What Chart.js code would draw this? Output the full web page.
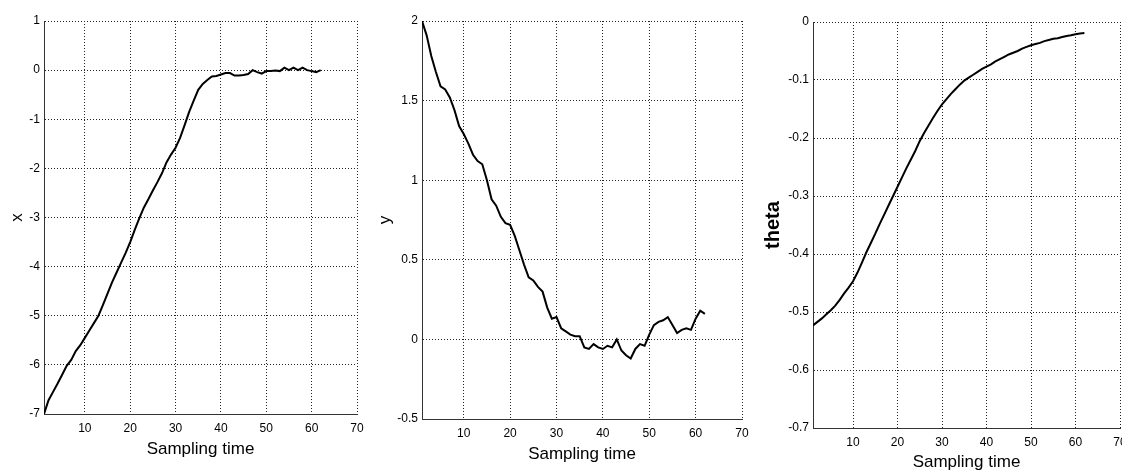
<!DOCTYPE html>
<html>
<head>
<meta charset="utf-8">
<script src="https://cdn.jsdelivr.net/npm/chart.js@4/dist/chart.umd.min.js"></script>
<style>
    html, body { margin: 0; padding: 0; background: #fff; }
    body { width: 1122px; height: 473px; position: relative; overflow: hidden; }
    canvas { position: absolute; top: 0; }
</style>
</head>
<body>
<canvas id="chart-x" width="375" height="473" style="left:0px"></canvas>
<canvas id="chart-y" width="380" height="473" style="left:375px"></canvas>
<canvas id="chart-theta" width="367" height="473" style="left:755px"></canvas>
<script>
// --- Data ---
const samplingTime = [1, 2, 3, 4, 5, 6, 7, 8, 9, 10, 11, 12, 13, 14, 15, 16, 17, 18, 19, 20,
    21, 22, 23, 24, 25, 26, 27, 28, 29, 30, 31, 32, 33, 34, 35, 36, 37, 38, 39, 40,
    41, 42, 43, 44, 45, 46, 47, 48, 49, 50, 51, 52, 53, 54, 55, 56, 57, 58, 59, 60, 61, 62];

const xValues = [-7.00, -6.72, -6.55, -6.38, -6.20, -6.02, -5.90, -5.72, -5.60, -5.45,
    -5.30, -5.15, -5.00, -4.78, -4.55, -4.32, -4.12, -3.92, -3.72, -3.50,
    -3.25, -3.02, -2.80, -2.63, -2.45, -2.28, -2.10, -1.88, -1.72, -1.58,
    -1.38, -1.12, -0.85, -0.62, -0.40, -0.28, -0.20, -0.13, -0.12, -0.09,
    -0.06, -0.06, -0.11, -0.11, -0.10, -0.08, 0.00, -0.04, -0.07, -0.02,
    -0.02, -0.01, -0.02, 0.05, 0.00, 0.05, 0.00, 0.05, 0.00, -0.02, -0.04, 0.00];

const yValues = [2.00, 1.91, 1.78, 1.68, 1.59, 1.57, 1.52, 1.44, 1.34, 1.29,
    1.23, 1.16, 1.12, 1.10, 1.00, 0.88, 0.84, 0.77, 0.73, 0.72,
    0.65, 0.56, 0.47, 0.39, 0.37, 0.33, 0.30, 0.20, 0.13, 0.14,
    0.07, 0.05, 0.03, 0.02, 0.02, -0.05, -0.06, -0.03, -0.05, -0.06,
    -0.04, -0.05, 0.00, -0.07, -0.10, -0.12, -0.06, -0.03, -0.04, 0.03,
    0.09, 0.11, 0.12, 0.14, 0.09, 0.04, 0.06, 0.07, 0.06, 0.13, 0.18, 0.16];

const thetaValues = [-0.523, -0.517, -0.511, -0.504, -0.497, -0.489, -0.479, -0.468, -0.458, -0.447,
    -0.432, -0.415, -0.397, -0.381, -0.365, -0.348, -0.332, -0.316, -0.300, -0.284,
    -0.268, -0.252, -0.237, -0.222, -0.205, -0.191, -0.178, -0.165, -0.153, -0.142,
    -0.133, -0.124, -0.116, -0.108, -0.101, -0.096, -0.091, -0.086, -0.081, -0.077,
    -0.073, -0.068, -0.064, -0.060, -0.056, -0.053, -0.050, -0.046, -0.043, -0.040,
    -0.038, -0.036, -0.033, -0.031, -0.029, -0.028, -0.026, -0.024, -0.023, -0.021, -0.020, -0.019];

const timeTicks = [10, 20, 30, 40, 50, 60, 70];
const xTicks = [-7, -6, -5, -4, -3, -2, -1, 0, 1];
const yTicks = [-0.5, 0, 0.5, 1, 1.5, 2];
const thetaTicks = [-0.7, -0.6, -0.5, -0.4, -0.3, -0.2, -0.1, 0];

// --- Shared styles ---
const tickFont = { family: "'Liberation Sans Narrow', 'Liberation Sans', Arial, sans-serif", size: 12 };
const titleFont = { family: "'Liberation Sans', Arial, sans-serif", size: 17 };
const gridStyle = { color: '#222', lineWidth: 1, drawTicks: false };
const borderStyle = { color: '#333', width: 1, dash: [1, 2] };

Chart.defaults.color = '#000';
Chart.defaults.animation = false;

function makeChart(id, values, ticks, yLabel, box) {
    const ctx = document.getElementById(id).getContext('2d');
    return new Chart(ctx, {
        type: 'line',
        data: {
            datasets: [{
                data: samplingTime.map((t, i) => ({ x: t, y: values[i] })),
                borderColor: '#000',
                borderWidth: 2,
                pointRadius: 0,
                tension: 0,
                fill: false
            }]
        },
        options: {
            responsive: false,
            layout: { padding: { left: 0, right: box.padRight, top: box.padTop, bottom: 0 } },
            plugins: { legend: { display: false }, tooltip: { enabled: false } },
            scales: {
                x: {
                    type: 'linear',
                    min: 1,
                    max: 70,
                    grid: gridStyle,
                    border: borderStyle,
                    afterBuildTicks: scale => { scale.ticks = timeTicks.map(v => ({ value: v })); },
                    afterFit: scale => {
                        scale.height = box.xHeight;
                        scale.paddingLeft = 0;
                        scale.paddingRight = 0;
                    },
                    ticks: { font: tickFont, padding: 7, maxRotation: 0, callback: v => String(v) },
                    title: { display: true, text: 'Sampling time', font: titleFont, padding: { top: 0, bottom: box.xTitlePad } }
                },
                y: {
                    type: 'linear',
                    min: ticks[0],
                    max: ticks[ticks.length - 1],
                    grid: gridStyle,
                    border: borderStyle,
                    afterBuildTicks: scale => { scale.ticks = ticks.map(v => ({ value: v })); },
                    afterFit: scale => {
                        scale.width = box.yWidth;
                        scale.paddingTop = 0;
                        scale.paddingBottom = 0;
                    },
                    ticks: { font: tickFont, padding: 4, callback: v => String(v) },
                    title: { display: true, text: yLabel, font: box.yTitleFont, padding: { top: box.yTitlePad, bottom: 0 } }
                }
            }
        }
    });
}

makeChart('chart-x', xValues, xTicks, 'x',
    { yWidth: 44, xHeight: 59, padRight: 18, padTop: 21, xTitlePad: 13, yTitlePad: 7, yTitleFont: titleFont });
makeChart('chart-y', yValues, yTicks, 'y',
    { yWidth: 47, xHeight: 54, padRight: 13, padTop: 21, xTitlePad: 8, yTitlePad: 0, yTitleFont: titleFont });
makeChart('chart-theta', thetaValues, thetaTicks, 'theta',
    { yWidth: 58, xHeight: 45, padRight: 2, padTop: 22, xTitlePad: 0, yTitlePad: 6,
      yTitleFont: { family: "'Liberation Sans', Arial, sans-serif", size: 20, weight: 'bold' } });
</script>
</body>
</html>
